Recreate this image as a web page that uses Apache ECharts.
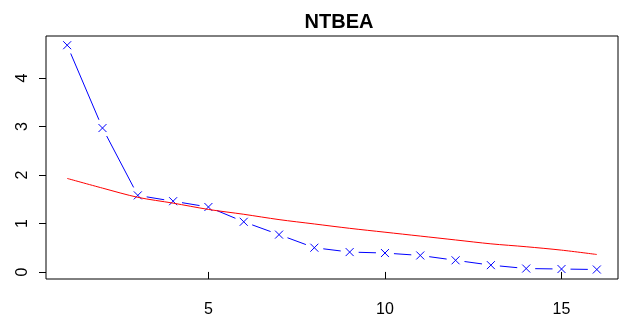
<!DOCTYPE html>
<html>
<head>
<meta charset="utf-8">
<script src="https://cdn.jsdelivr.net/npm/echarts@6/dist/echarts.min.js"></script>
<style>
  html, body { margin: 0; padding: 0; background: #fff; }
  #chart { width: 635px; height: 324px; }
</style>
</head>
<body>
<div id="chart"></div>
<script>
// scree-style plot: observed (blue, type="b") vs reference curve (red)
const components = [1, 2, 3, 4, 5, 6, 7, 8, 9, 10, 11, 12, 13, 14, 15, 16];
const observed = [4.68, 2.97, 1.58, 1.46, 1.34, 1.035, 0.77, 0.50, 0.41, 0.39, 0.34, 0.24, 0.14, 0.07, 0.06, 0.05];
const reference = [1.93, 1.73, 1.54, 1.42, 1.29, 1.19, 1.08, 0.99, 0.90, 0.82, 0.74, 0.66, 0.58, 0.52, 0.45, 0.36];
const xTicks = [5, 10, 15];
const yTicks = [0, 1, 2, 3, 4];

const FONT = '"Liberation Sans", Arial, sans-serif';
const BLUE = '#0000ff';
const RED = '#ff0000';
const GAP = 9;   // gap around each point, like R type="b"
const XSIZE = 4; // half size of the x marker

const segments = components.slice(0, -1).map((x, i) =>
  [x, observed[i], components[i + 1], observed[i + 1]]);
const points = components.map((x, i) => [x, observed[i]]);

const chart = echarts.init(document.getElementById('chart'));
chart.setOption({
  animation: false,
  backgroundColor: '#fff',
  title: {
    text: 'NTBEA',
    left: 334, top: 7, textAlign: 'center',
    textStyle: { fontFamily: FONT, fontSize: 20, fontWeight: 'bold', color: '#000' }
  },
  grid: {
    left: 46, right: 17, top: 36, bottom: 45,
    show: true, borderColor: '#000', borderWidth: 1, backgroundColor: 'transparent'
  },
  xAxis: {
    type: 'value',
    min: 0.4, max: 16.6,
    axisLine: { show: false },
    splitLine: { show: false },
    axisTick: { show: true, length: 7, customValues: xTicks, lineStyle: { color: '#000' } },
    axisLabel: {
      customValues: xTicks, margin: 23,
      fontFamily: FONT, fontSize: 16, color: '#000'
    }
  },
  yAxis: {
    type: 'value',
    min: -0.146, max: 4.87,
    axisLine: { show: false },
    splitLine: { show: false },
    axisTick: { show: true, length: 7, customValues: yTicks, lineStyle: { color: '#000' } },
    axisLabel: {
      customValues: yTicks, margin: 15, rotate: 90,
      fontFamily: FONT, fontSize: 16, color: '#000'
    }
  },
  series: [
    {
      type: 'custom',
      data: segments,
      encode: { x: [0, 2], y: [1, 3] },
      renderItem: (params, api) => {
        const p1 = api.coord([api.value(0), api.value(1)]);
        const p2 = api.coord([api.value(2), api.value(3)]);
        const dx = p2[0] - p1[0], dy = p2[1] - p1[1];
        const len = Math.sqrt(dx * dx + dy * dy);
        if (len <= 2 * GAP) return null;
        const ux = dx / len, uy = dy / len;
        return {
          type: 'line',
          shape: {
            x1: p1[0] + ux * GAP, y1: p1[1] + uy * GAP,
            x2: p2[0] - ux * GAP, y2: p2[1] - uy * GAP
          },
          style: { stroke: BLUE, lineWidth: 1 }
        };
      }
    },
    {
      type: 'custom',
      data: points,
      encode: { x: 0, y: 1 },
      renderItem: (params, api) => {
        const p = api.coord([api.value(0), api.value(1)]);
        const s = { stroke: BLUE, lineWidth: 1 };
        return {
          type: 'group',
          children: [
            { type: 'line', shape: { x1: p[0] - XSIZE, y1: p[1] - XSIZE, x2: p[0] + XSIZE, y2: p[1] + XSIZE }, style: s },
            { type: 'line', shape: { x1: p[0] - XSIZE, y1: p[1] + XSIZE, x2: p[0] + XSIZE, y2: p[1] - XSIZE }, style: s }
          ]
        };
      }
    },
    {
      type: 'line',
      data: components.map((x, i) => [x, reference[i]]),
      showSymbol: false,
      smooth: 0.3,
      lineStyle: { color: RED, width: 1 }
    }
  ]
});
</script>
</body>
</html>
